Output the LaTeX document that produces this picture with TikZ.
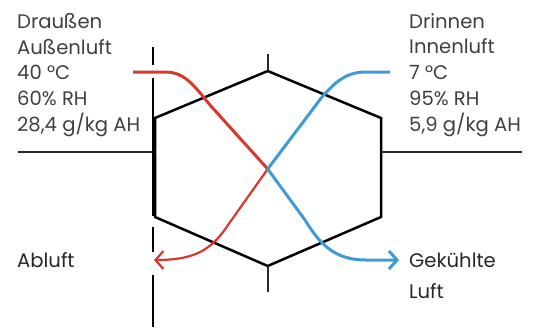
\documentclass[tikz,border=0pt]{standalone}
\usepackage{fontspec}
\setmainfont{Poppins}
\usetikzlibrary{arrows.meta}
\definecolor{rot}{HTML}{D8392D}
\definecolor{blau}{HTML}{3D9BD6}
\definecolor{schrift}{HTML}{404040}
\begin{document}
\begin{tikzpicture}[x=1pt,y=-1pt,
    kante/.style={line width=2.5pt,black,line join=miter},
    achse/.style={line width=1.8pt,black!85},
    trenn/.style={line width=1.8pt,black},
    etikett/.style={inner sep=0pt,align=left,text=schrift,font=\fontsize{19.6}{25.8}\selectfont},
    pfeil/.style={-{Straight Barb[length=8pt,width=18pt]}}]
    \useasboundingbox (0,0) rectangle (543,327);

    %Sechseck
        \coordinate (o) at (267.7,71);
        \coordinate (ol) at (155,118);
        \coordinate (ul) at (155,217);
        \coordinate (u) at (267.7,266);
        \coordinate (ur) at (381,217);
        \coordinate (or) at (381,118);
        \coordinate (m) at (267.7,169);
        \draw[kante] (o)--(or)--(ur)--(u)--(ul)--(ol)--cycle;
        \draw[achse] (o)--(267.7,54);
        \draw[achse] (u)--(267.7,292);
        \draw[achse] (ol |- 0,152)--(18,152);
        \draw[achse] (or |- 0,152)--(522,152);

    %Trennlinie
        \draw[trenn] (153,47)--(153,65);
        \draw[trenn] (153,78)--(153,216);
        \draw[trenn] (153,227)--(153,252);
        \draw[trenn] (153,275)--(153,327);

    %Luftstroeme
        \draw[rot,line width=3pt] (133,72)--(165,72) .. controls (184,72) and (193,84) .. (210,105)--(m);
        \draw[rot,line width=2.2pt,pfeil] (m)--(228,225) .. controls (212,249) and (196,260) .. (154,260);
        \draw[blau,line width=3pt] (390,72)--(366,72) .. controls (347,72) and (336,81) .. (322,97)--(m);
        \draw[blau,line width=3pt,pfeil] (m)--(305,220) .. controls (321,246) and (336,260) .. (366,260)--(399,260);

    %Texte
        \node[etikett,anchor=north west] (draussen) at (17,13) {Draußen\\Außenluft\\40 °C\\60\% RH\\28,4 g/kg AH};
        \node[etikett,anchor=north west] (drinnen) at (409,13) {Drinnen\\Innenluft\\7 °C\\95\% RH\\5,9 g/kg AH};
        \node[etikett,anchor=base west,text=black!85] (abluft) at (17,267) {Abluft};
        \node[etikett,anchor=base west,text=black!85] (gekuehlt) at (409,267) {Gekühlte};
        \node[etikett,anchor=base west,text=black!85] (luft) at (409,298) {Luft};
\end{tikzpicture}
\end{document}
